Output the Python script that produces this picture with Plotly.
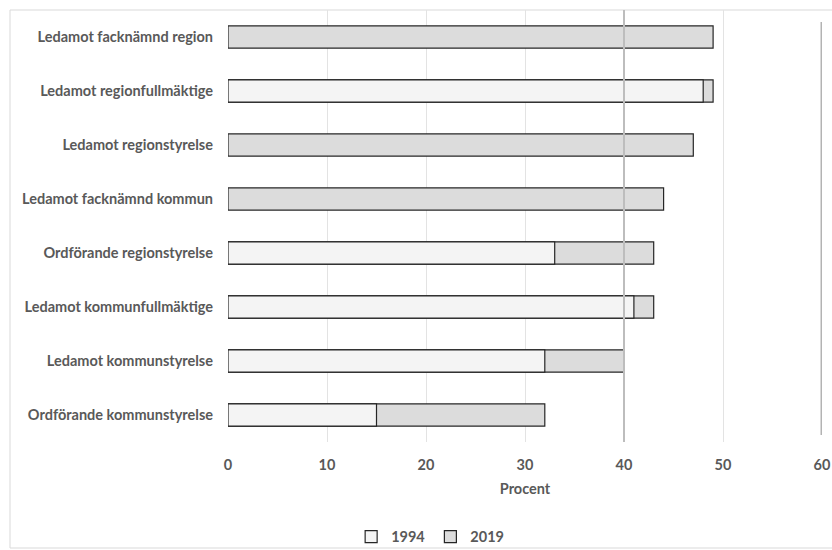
import plotly.graph_objects as go

categories = [
    "Ledamot facknämnd region",
    "Ledamot regionfullmäktige",
    "Ledamot regionstyrelse",
    "Ledamot facknämnd kommun",
    "Ordförande regionstyrelse",
    "Ledamot kommunfullmäktige",
    "Ledamot kommunstyrelse",
    "Ordförande kommunstyrelse",
]
values_1994 = [None, 48, None, None, 33, 41, 32, 15]
values_2019 = [49, 49, 47, 44, 43, 43, 40, 32]
x_ticks = [0, 10, 20, 30, 40, 50, 60]

FONT = "Lato"
TXT = "#595959"
FS = 14.5

fig = go.Figure()
fig.add_trace(go.Bar(
    y=categories, x=values_2019, name="2019", orientation="h",
    marker=dict(color="#dcdcdc", line=dict(color="#262626", width=1.2)),
    legendrank=2,
))
fig.add_trace(go.Bar(
    y=categories, x=values_1994, name="1994", orientation="h",
    marker=dict(color="#f4f4f4", line=dict(color="#262626", width=1.2)),
    legendrank=1,
))

L, R, T, B = 228, 10, 10, 108
W, H = 832, 550
pw, ph = W - L - R, H - T - B

fig.update_layout(
    width=W, height=H,
    margin=dict(l=L, r=R, t=T, b=B),
    barmode="overlay",
    bargap=0.59,
    plot_bgcolor="white",
    paper_bgcolor="white",
    font=dict(family=FONT, color=TXT, size=FS),
    showlegend=True,
    legend=dict(
        orientation="h", xref="container", yref="container",
        x=0.517, xanchor="center", y=0.024, yanchor="middle",
        font=dict(family=FONT, size=FS, color=TXT, weight="bold"),
        bgcolor="rgba(0,0,0,0)",
        itemwidth=30, traceorder="normal",
    ),
    xaxis=dict(
        range=[0, 60], tickvals=x_ticks, showgrid=True, gridcolor="#e3e3e3", gridwidth=1,
        zeroline=False, showline=False, ticks="", ticklabelstandoff=12,
        tickfont=dict(family=FONT, size=FS, color=TXT, weight="bold"),
        title=dict(text="Procent", font=dict(family=FONT, size=FS, color=TXT, weight="bold"), standoff=12),
        automargin=False,
    ),
    yaxis=dict(
        autorange="reversed", showgrid=False, zeroline=False, showline=False,
        ticks="", ticklabelstandoff=14,
        tickfont=dict(family=FONT, size=FS, color=TXT, weight="bold"),
        automargin=False,
    ),
    shapes=[
        # outer light border of the chart area
        dict(type="rect", xref="paper", yref="paper",
             x0=(10 - L) / pw, x1=(W + 5 - L) / pw,
             y0=(T + ph - (H - 2)) / ph, y1=1.0,
             line=dict(color="#d9d9d9", width=1), layer="below"),
        # reference line at 40
        dict(type="line", xref="x", yref="paper", x0=40, x1=40, y0=0, y1=1,
             line=dict(color="#bdbdbd", width=2), layer="above"),
        # line at 60
        dict(type="line", xref="x", yref="paper", x0=59.95, x1=59.95, y0=0.016, y1=0.972,
             line=dict(color="#b3b3b3", width=2), layer="above"),
    ],
)

fig.write_html(
    "out.html",
    config={"displayModeBar": False},
    post_script="document.body.style.margin='0';document.body.style.overflow='hidden';",
)
